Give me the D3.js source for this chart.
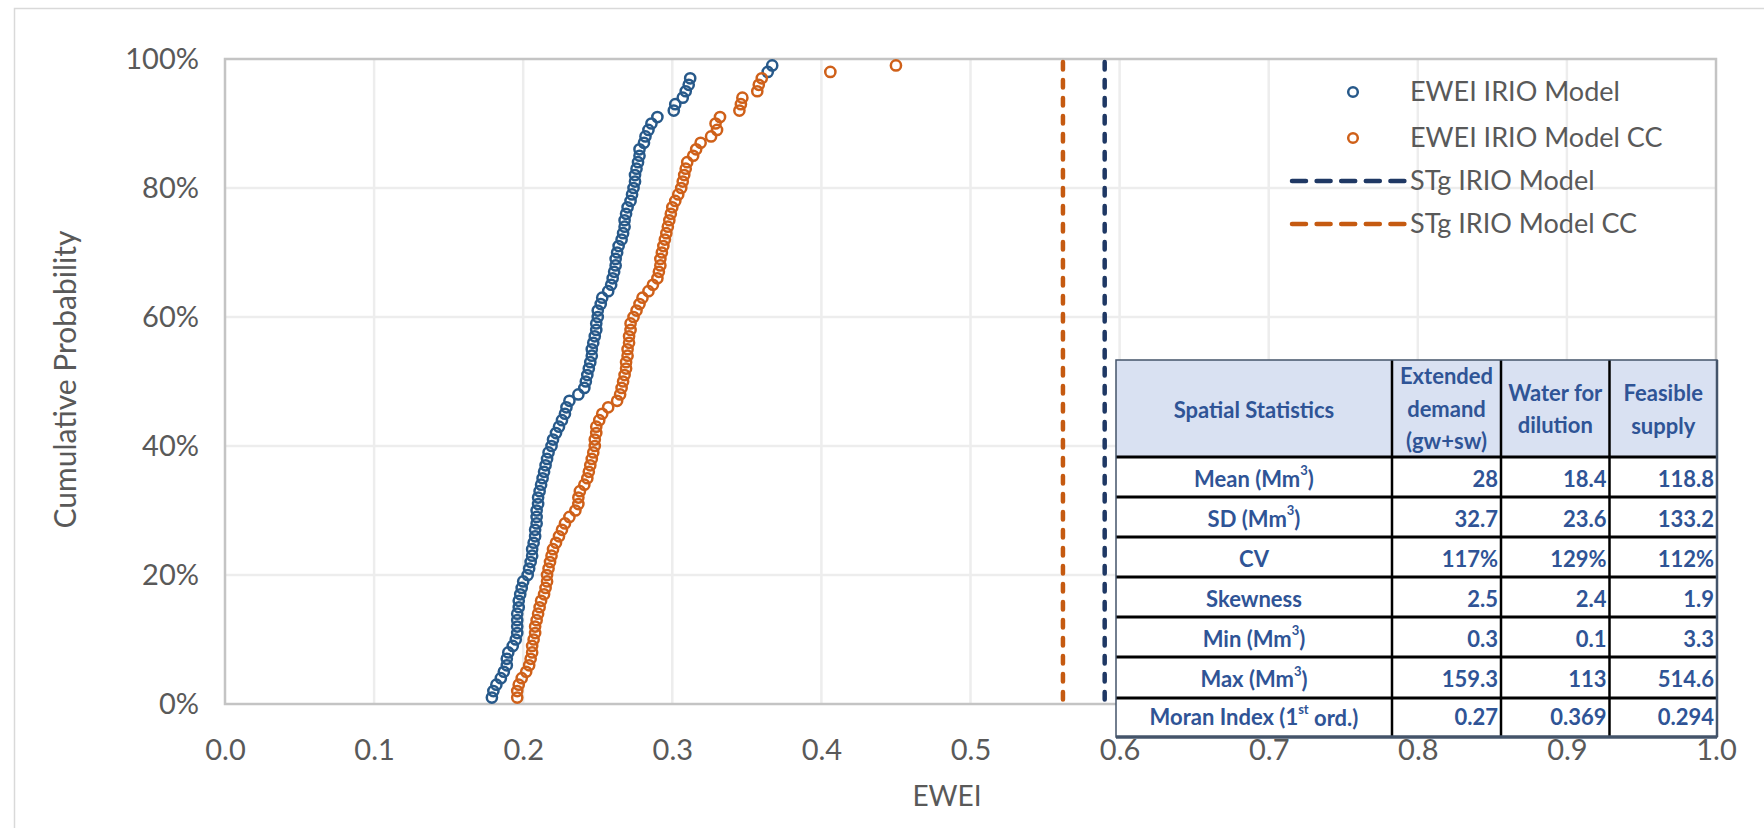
<!DOCTYPE html>
<html>
<head>
<meta charset="utf-8">
<script src="https://cdn.jsdelivr.net/npm/d3@7"></script>
<style>
  html, body { margin: 0; padding: 0; background: #fff; }
  svg { display: block; font-family: Lato, "Noto Sans", sans-serif; }
</style>
</head>
<body>
<svg id="chart" width="1764" height="828"></svg>
<script>
// Cumulative probability (%) for each ranked value.
const cumProb = [
  1, 2, 3, 4, 5, 6, 7, 8, 9, 10, 11, 12, 13, 14, 15, 16, 17, 18, 19, 20,
  21, 22, 23, 24, 25, 26, 27, 28, 29, 30, 31, 32, 33, 34, 35, 36, 37, 38, 39, 40,
  41, 42, 43, 44, 45, 46, 47, 48, 49, 50, 51, 52, 53, 54, 55, 56, 57, 58, 59, 60,
  61, 62, 63, 64, 65, 66, 67, 68, 69, 70, 71, 72, 73, 74, 75, 76, 77, 78, 79, 80,
  81, 82, 83, 84, 85, 86, 87, 88, 89, 90, 91, 92, 93, 94, 95, 96, 97, 98, 99
];

// EWEI IRIO Model (sorted values)
const eweiModel = [
  0.179, 0.180, 0.182, 0.185, 0.187, 0.189, 0.189, 0.190, 0.193, 0.195,
  0.196, 0.196, 0.196, 0.196, 0.197, 0.197, 0.198, 0.199, 0.200, 0.203,
  0.204, 0.205, 0.206, 0.206, 0.207, 0.208, 0.208, 0.209, 0.209, 0.209,
  0.210, 0.210, 0.211, 0.212, 0.213, 0.214, 0.215, 0.216, 0.217, 0.219,
  0.220, 0.222, 0.224, 0.226, 0.228, 0.229, 0.231, 0.237, 0.241, 0.242,
  0.243, 0.244, 0.245, 0.246, 0.246, 0.247, 0.248, 0.249, 0.249, 0.250,
  0.250, 0.252, 0.253, 0.257, 0.259, 0.260, 0.261, 0.262, 0.262, 0.263,
  0.264, 0.266, 0.267, 0.268, 0.268, 0.269, 0.270, 0.272, 0.273, 0.274,
  0.275, 0.275, 0.276, 0.277, 0.278, 0.278, 0.281, 0.282, 0.284, 0.286,
  0.290, 0.301, 0.302, 0.307, 0.309, 0.311, 0.312, 0.364, 0.367
];

// EWEI IRIO Model CC (sorted values)
const eweiModelCC = [
  0.196, 0.196, 0.197, 0.199, 0.202, 0.204, 0.205, 0.206, 0.206, 0.207,
  0.208, 0.208, 0.209, 0.210, 0.211, 0.212, 0.214, 0.215, 0.216, 0.216,
  0.217, 0.218, 0.219, 0.220, 0.222, 0.224, 0.226, 0.228, 0.231, 0.235,
  0.237, 0.237, 0.238, 0.241, 0.243, 0.244, 0.245, 0.246, 0.247, 0.248,
  0.248, 0.249, 0.249, 0.251, 0.253, 0.257, 0.263, 0.265, 0.266, 0.267,
  0.268, 0.269, 0.269, 0.270, 0.270, 0.271, 0.271, 0.272, 0.272, 0.274,
  0.276, 0.278, 0.280, 0.284, 0.287, 0.290, 0.291, 0.292, 0.292, 0.293,
  0.294, 0.295, 0.296, 0.297, 0.298, 0.299, 0.300, 0.302, 0.304, 0.306,
  0.307, 0.308, 0.309, 0.310, 0.314, 0.316, 0.319, 0.326, 0.330, 0.329,
  0.332, 0.345, 0.346, 0.347, 0.357, 0.358, 0.360, 0.406, 0.450
];

// STg reference lines
const stgNames = ["STg IRIO Model", "STg IRIO Model CC"];
const stgValues = [0.590, 0.562];

const seriesNames = ["EWEI IRIO Model", "EWEI IRIO Model CC"];

const xTicks = [0, 0.1, 0.2, 0.3, 0.4, 0.5, 0.6, 0.7, 0.8, 0.9, 1.0];
const yTicks = [0, 0.2, 0.4, 0.6, 0.8, 1.0];

// Statistics table
const tableHeaders = [["Spatial Statistics"], ["Extended", "demand", "(gw+sw)"], ["Water for", "dilution"], ["Feasible", "supply"]];
const rowLabels = [
  ["Mean (Mm", "3", ")"],
  ["SD (Mm", "3", ")"],
  ["CV", "", ""],
  ["Skewness", "", ""],
  ["Min (Mm", "3", ")"],
  ["Max (Mm", "3", ")"],
  ["Moran Index (1", "st", " ord.)"]
];
const extendedDemand = ["28", "32.7", "117%", "2.5", "0.3", "159.3", "0.27"];
const waterDilution = ["18.4", "23.6", "129%", "2.4", "0.1", "113", "0.369"];
const feasibleSupply = ["118.8", "133.2", "112%", "1.9", "3.3", "514.6", "0.294"];

const blue = "#27598a";
const orange = "#cf6019";
const navy = "#1f3864";
const dashOrange = "#c55a11";
const textGray = "#595959";
const tableBlue = "#2f5496";

const svg = d3.select("#chart");

// chart area border
svg.append("rect").attr("x", 14.5).attr("y", 8.5).attr("width", 1800).attr("height", 900)
  .attr("fill", "#fff").attr("stroke", "#d9d9d9").attr("stroke-width", 1.5);

const x = d3.scaleLinear().domain([0, 1]).range([225, 1716]);
const y = d3.scaleLinear().domain([0, 1]).range([704, 59]);

// gridlines
svg.append("g").selectAll("line").data(xTicks.slice(1, -1)).join("line")
  .attr("x1", d => x(d)).attr("x2", d => x(d)).attr("y1", y(0)).attr("y2", y(1))
  .attr("stroke", "#ededed").attr("stroke-width", 2.5);
svg.append("g").selectAll("line").data(yTicks.slice(1, -1)).join("line")
  .attr("x1", x(0)).attr("x2", x(1)).attr("y1", d => y(d)).attr("y2", d => y(d))
  .attr("stroke", "#ededed").attr("stroke-width", 2.5);

// plot border
svg.append("rect").attr("x", x(0)).attr("y", y(1)).attr("width", x(1) - x(0)).attr("height", y(0) - y(1))
  .attr("fill", "none").attr("stroke", "#c4c4c4").attr("stroke-width", 2.5);

// axes
const xAxis = svg.append("g").attr("transform", `translate(0,${y(0)})`)
  .call(d3.axisBottom(x).tickValues(xTicks).tickFormat(d3.format(".1f")).tickSize(0));
const yAxis = svg.append("g").attr("transform", `translate(${x(0)},0)`)
  .call(d3.axisLeft(y).tickValues(yTicks).tickFormat(d3.format(".0%")).tickSize(0).tickPadding(26));
[xAxis, yAxis].forEach(a => {
  a.select(".domain").remove();
  a.selectAll("text").attr("fill", textGray).attr("font-size", 29).attr("font-family", "Lato");
});
xAxis.selectAll("text").attr("dy", "0.35em").attr("y", 46);

// axis titles
svg.append("text").attr("x", 947).attr("y", 796).attr("dy", "0.35em").attr("text-anchor", "middle")
  .attr("fill", textGray).attr("font-size", 28).text("EWEI");
svg.append("text").attr("transform", `translate(65,${(y(0) + y(1)) / 2 - 2}) rotate(-90)`)
  .attr("dy", "0.35em").attr("text-anchor", "middle")
  .attr("fill", textGray).attr("font-size", 30).text("Cumulative Probability");

// STg dashed lines
svg.append("g").selectAll("line").data(stgValues).join("line")
  .attr("x1", d => x(d)).attr("x2", d => x(d)).attr("y1", y(1) + 3).attr("y2", y(0) - 3)
  .attr("stroke", (d, i) => i === 0 ? navy : dashOrange)
  .attr("stroke-width", 4.5).attr("stroke-linecap", "round").attr("stroke-dasharray", "7.5,10.5");

// scatter series
const seriesData = [eweiModel, eweiModelCC];
const seriesColors = [blue, orange];
seriesData.forEach((vals, si) => {
  svg.append("g").selectAll("circle").data(vals).join("circle")
    .attr("cx", d => x(d)).attr("cy", (d, i) => y(cumProb[i] / 100)).attr("r", 5.1)
    .attr("fill", "none").attr("stroke", seriesColors[si]).attr("stroke-width", 2.5);
});

// legend
const legendRowsY = [92, 138, 181, 224];
const legend = svg.append("g");
seriesNames.forEach((name, i) => {
  legend.append("circle").attr("cx", 1353).attr("cy", legendRowsY[i]).attr("r", 4.8)
    .attr("fill", "none").attr("stroke", seriesColors[i]).attr("stroke-width", 2.5);
  legend.append("text").attr("x", 1410).attr("y", legendRowsY[i]).attr("dy", "0.35em")
    .attr("fill", textGray).attr("font-size", 27).text(name);
});
stgNames.forEach((name, i) => {
  legend.append("line").attr("x1", 1292).attr("x2", 1405)
    .attr("y1", legendRowsY[i + 2]).attr("y2", legendRowsY[i + 2])
    .attr("stroke", i === 0 ? navy : dashOrange).attr("stroke-width", 4.5)
    .attr("stroke-linecap", "round").attr("stroke-dasharray", "14,10.6");
  legend.append("text").attr("x", 1410).attr("y", legendRowsY[i + 2]).attr("dy", "0.35em")
    .attr("fill", textGray).attr("font-size", 27).text(name);
});

// table
const colEdges = [1116, 1392, 1501, 1609.5, 1717];
const rowEdges = [360, 457, 497, 537, 577, 617, 657, 698, 737];
const table = svg.append("g").attr("font-weight", "bold").attr("fill", tableBlue).attr("font-size", 22);

table.append("rect").attr("x", colEdges[0]).attr("y", rowEdges[1]).attr("width", colEdges[4] - colEdges[0])
  .attr("height", rowEdges[8] - rowEdges[1]).attr("fill", "#fff");
table.append("rect").attr("x", colEdges[0]).attr("y", rowEdges[0]).attr("width", colEdges[4] - colEdges[0])
  .attr("height", rowEdges[1] - rowEdges[0]).attr("fill", "#d9e1f2");

// header text
const headerLineY = [[410], [376.7, 409.3, 441.7], [393.3, 425.5], [393.3, 426]];
tableHeaders.forEach((lines, c) => {
  lines.forEach((ln, k) => {
    table.append("text").attr("x", (colEdges[c] + colEdges[c + 1]) / 2).attr("y", headerLineY[c][k])
      .attr("dy", "0.35em").attr("text-anchor", "middle").text(ln);
  });
});

// body text
const columns = [extendedDemand, waterDilution, feasibleSupply];
rowLabels.forEach((lab, r) => {
  const cy = (rowEdges[r + 1] + rowEdges[r + 2]) / 2 + (r === 6 ? 0 : 2);
  const t = table.append("text").attr("x", (colEdges[0] + colEdges[1]) / 2).attr("y", cy)
    .attr("dy", "0.35em").attr("text-anchor", "middle");
  t.append("tspan").text(lab[0]);
  if (lab[1]) t.append("tspan").attr("font-size", 13).attr("dy", "-0.9em").text(lab[1]);
  if (lab[2]) t.append("tspan").attr("dy", lab[1] ? "0.55em" : 0).text(lab[2]);
  columns.forEach((col, c) => {
    table.append("text").attr("x", colEdges[c + 2] - 3).attr("y", cy).attr("dy", "0.35em")
      .attr("text-anchor", "end").text(col[r]);
  });
});

// table lines
for (let r = 1; r < rowEdges.length - 1; r++) {
  table.append("line").attr("x1", colEdges[0]).attr("x2", colEdges[4])
    .attr("y1", rowEdges[r]).attr("y2", rowEdges[r]).attr("stroke", "#000").attr("stroke-width", 3);
}
for (let c = 1; c < colEdges.length - 1; c++) {
  table.append("line").attr("x1", colEdges[c]).attr("x2", colEdges[c])
    .attr("y1", rowEdges[0]).attr("y2", rowEdges[8]).attr("stroke", "#000").attr("stroke-width", 2.5);
}
table.append("rect").attr("x", colEdges[0]).attr("y", rowEdges[0]).attr("width", colEdges[4] - colEdges[0])
  .attr("height", rowEdges[8] - rowEdges[0]).attr("fill", "none").attr("stroke", "#44546a").attr("stroke-width", 1.5);
table.append("line").attr("x1", colEdges[0]).attr("x2", colEdges[4]).attr("y1", rowEdges[8]).attr("y2", rowEdges[8])
  .attr("stroke", "#44546a").attr("stroke-width", 3.5);
table.append("line").attr("x1", colEdges[4]).attr("x2", colEdges[4]).attr("y1", rowEdges[0]).attr("y2", rowEdges[8])
  .attr("stroke", "#44546a").attr("stroke-width", 2.5);
</script>
</body>
</html>
